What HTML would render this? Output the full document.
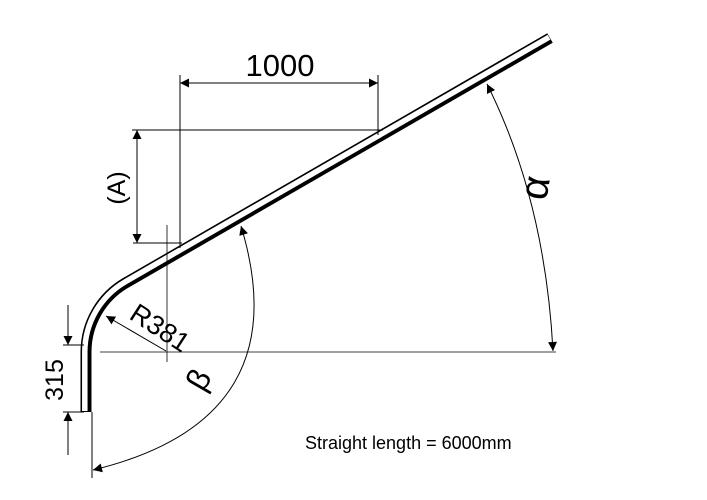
<!DOCTYPE html>
<html><head><style>body{margin:0;background:#fff}svg{display:block}text{font-family:"Liberation Sans",sans-serif;fill:#000}</style></head>
<body>
<svg width="707" height="500" viewBox="0 0 707 500">
<defs>
<marker id="a" viewBox="0 0 10 10" refX="10" refY="5" markerWidth="22" markerHeight="9" markerUnits="userSpaceOnUse" orient="auto-start-reverse"><path d="M0,0 L10,5 L0,10 z" fill="#000"/></marker>
</defs>
<g fill="none" stroke="#000" stroke-width="1">
<path d="M86,412 L86,352 A80,80 0 0 1 126,282.7 L550,38" stroke-width="11" stroke-linejoin="round"/>
<path d="M84.8,411 L84.8,352 A81.2,81.2 0 0 1 125.4,281.7 L549,37.3" stroke="#fff" stroke-width="5.5"/>
<line x1="100" y1="352" x2="556" y2="352" stroke-width="0.8"/>
<line x1="167" y1="225" x2="167" y2="362" stroke-width="0.8"/>
<line x1="180" y1="75" x2="180" y2="248"/>
<line x1="378" y1="75" x2="378" y2="135"/>
<line x1="180" y1="83" x2="378" y2="83" marker-start="url(#a)" marker-end="url(#a)"/>
<line x1="132" y1="130" x2="383" y2="130"/>
<line x1="133" y1="243" x2="182" y2="243"/>
<line x1="137" y1="130" x2="137" y2="243" marker-start="url(#a)" marker-end="url(#a)"/>
<line x1="63" y1="345" x2="84" y2="345"/>
<line x1="63" y1="412" x2="84" y2="412"/>
<line x1="68" y1="305" x2="68" y2="345" marker-end="url(#a)"/>
<line x1="68" y1="455" x2="68" y2="412" marker-end="url(#a)"/>
<line x1="92" y1="412" x2="92" y2="478"/>
<line x1="166" y1="351" x2="106" y2="316" marker-end="url(#a)"/>
<path d="M93,470 Q300,420 241,226" marker-start="url(#a)" marker-end="url(#a)"/>
<path d="M553,351 Q545,200 487,84" marker-start="url(#a)" marker-end="url(#a)"/>
</g>
<text x="280" y="76" font-size="31" text-anchor="middle">1000</text>
<text transform="translate(125,188) rotate(-90)" font-size="25" text-anchor="middle">(A)</text>
<text transform="translate(63,380) rotate(-90)" font-size="25" text-anchor="middle">315</text>
<text transform="translate(128,318) rotate(33)" font-size="27">R381</text>
<text transform="translate(208,385) rotate(-60)" font-size="32" text-anchor="middle">β</text>
<text transform="translate(548,190) rotate(-80)" font-size="40" text-anchor="middle">α</text>
<text x="305" y="449" font-size="18">Straight length = 6000mm</text>
</svg>
</body></html>
